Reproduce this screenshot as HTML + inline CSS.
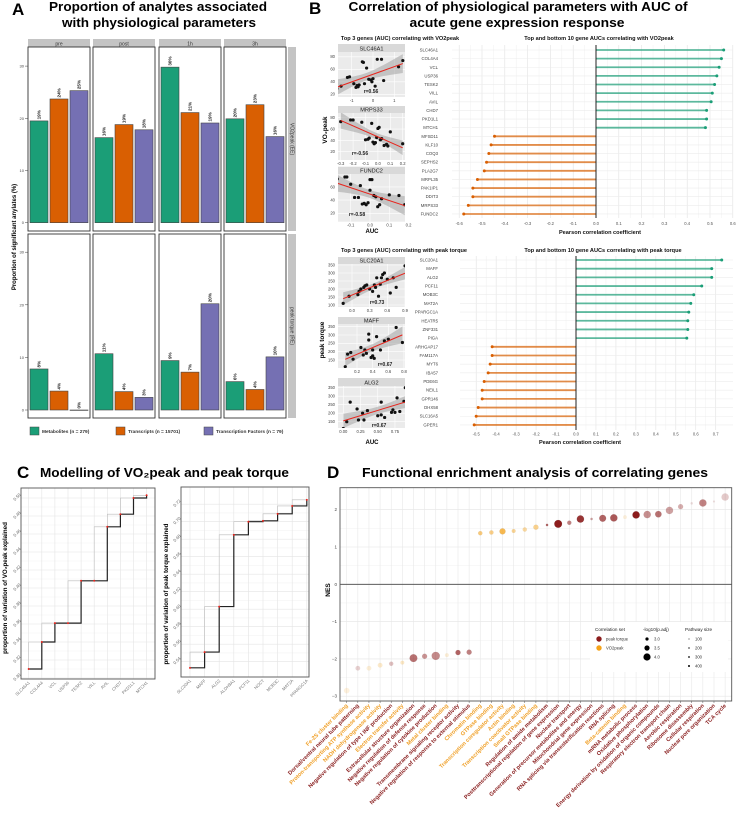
<!DOCTYPE html>
<html><head><meta charset="utf-8">
<style>
html,body{margin:0;padding:0;background:#fff;}
svg{display:block;font-family:"Liberation Sans",Arial,sans-serif;}
</style></head>
<body>
<svg id="fig" width="736" height="817" viewBox="0 0 736 817" xmlns="http://www.w3.org/2000/svg">
<rect x="0" y="0" width="736" height="817" fill="#fff"/>
<text x="12" y="15" font-size="17" font-weight="bold">A</text>
<text x="158" y="11" font-size="12.5" font-weight="bold" text-anchor="middle" textLength="218" lengthAdjust="spacingAndGlyphs">Proportion of analytes associated</text>
<text x="159" y="27" font-size="12.5" font-weight="bold" text-anchor="middle" textLength="194" lengthAdjust="spacingAndGlyphs">with physiological parameters</text>
<text x="309" y="14" font-size="17" font-weight="bold">B</text>
<text x="518" y="11" font-size="12.5" font-weight="bold" text-anchor="middle" textLength="339" lengthAdjust="spacingAndGlyphs">Correlation of physiological parameters with AUC of</text>
<text x="517" y="27" font-size="12.5" font-weight="bold" text-anchor="middle" textLength="215" lengthAdjust="spacingAndGlyphs">acute gene expression response</text>
<text x="17" y="478" font-size="17" font-weight="bold">C</text>
<text x="40" y="477" font-size="12.5" font-weight="bold" textLength="249" lengthAdjust="spacingAndGlyphs">Modelling of VO₂peak and peak torque</text>
<text x="327" y="478" font-size="17" font-weight="bold">D</text>
<text x="362" y="477" font-size="12.5" font-weight="bold" textLength="346" lengthAdjust="spacingAndGlyphs">Functional enrichment analysis of correlating genes</text>
</svg>
<script>
// ===== Panel A data =====
const aTimes=['pre','post','1h','3h'];
const aGroups=['Metabolites (n = 279)','Transcripts (n = 15701)','Transcription Factors (n = 79)'];
const aVo2=[[19.5,23.7,25.3],[16.3,18.8,17.8],[29.8,21.1,19.1],[19.9,22.6,16.5]];
const aVo2Labels=[['19%','24%','25%'],['16%','19%','18%'],['30%','21%','19%'],['20%','23%','16%']];
const aTorque=[[7.8,3.6,0],[10.7,3.5,2.4],[9.4,7.2,20.2],[5.4,3.9,10.1]];
const aTorqueLabels=[['8%','4%','0%'],['11%','4%','3%'],['9%','7%','20%'],['6%','4%','10%']];
const aTicks=[0,10,20,30];
// ===== Panel B data =====
const bTopGenes=['SLC46A1','COL4A4','VCL','USP36','TESK2','VILL','AVIL','CHD7','PKD1L1','MTCH1','MFSD11','KLF10','COQ3','SEPHS2','PLA2G7','MRPL35','PAK1IP1','DDIT3','MRPS33','FUNDC2'];
const bTopVals=[0.56,0.55,0.54,0.53,0.52,0.51,0.505,0.485,0.485,0.48,-0.445,-0.46,-0.47,-0.48,-0.49,-0.52,-0.54,-0.54,-0.56,-0.58];
const bTopTicks=[-0.6,-0.5,-0.4,-0.3,-0.2,-0.1,0,0.1,0.2,0.3,0.4,0.5,0.6];
const bBotGenes=['SLC20A1','MAFF','ALG2','PCF11','MOB3C','MAT2A','PPARGC1A','HEATR5','ZNF331','PIGA','ARHGAP17','FAM117A','MYT6','IBA57','PDE6G','NEIL1','GPR146','DHX58','SLC16A5','GPER1'];
const bBotVals=[0.73,0.68,0.68,0.63,0.59,0.575,0.565,0.56,0.56,0.555,-0.42,-0.42,-0.43,-0.44,-0.46,-0.47,-0.47,-0.49,-0.50,-0.51];
const bBotTicks=[-0.5,-0.4,-0.3,-0.2,-0.1,0,0.1,0.2,0.3,0.4,0.5,0.6,0.7];
const s1X=[-1.7,-1.5,-1.2,-1.1,-0.9,-0.8,-0.75,-0.7,-0.65,-0.5,-0.45,-0.4,-0.3,-0.2,-0.1,-0.05,0.1,0.2,0.4,0.5,1.2,1.4,0];
const s1Y=[29,33,47,48,37,31,34,32,35,72,71,37,62,44,43,40,33,76,76,42,64,74,45];
const s2X=[-0.3,-0.22,-0.2,-0.13,-0.1,-0.08,-0.05,-0.04,-0.03,-0.02,0,0.01,0.02,0.03,-0.01,0.05,0.08,0.1,0.2,-0.07,0.07];
const s2Y=[73,76,76,72,41,42,70,37,34,36,61,63,41,43,45,31,30,55,34,44,33];
const s3X=[-0.17,-0.13,-0.12,-0.1,-0.08,-0.06,-0.05,-0.04,-0.02,-0.01,0,0,0.01,0.02,0.03,0.04,0.05,0.06,0.1,0.15,0.18,-0.03];
const s3Y=[72,75,75,64,44,44,62,34,33,36,55,71,71,47,45,30,33,42,48,47,33,35];
const s4X=[-0.15,-0.05,0.1,0.15,0.12,0.2,0.22,0.25,0.3,0.35,0.4,0.42,0.45,0.5,0.52,0.55,0.6,0.65,0.7,0.75,0.9,0.38,0.48];
const s4Y=[110,155,165,200,185,210,220,225,200,185,210,270,155,270,290,300,260,175,270,210,345,225,230];
const s5X=[0.05,0.08,0.12,0.15,0.25,0.3,0.32,0.35,0.38,0.4,0.4,0.45,0.5,0.55,0.6,0.7,0.78,0.35,0.42,0.28];
const s5Y=[110,185,195,155,225,210,190,305,165,175,210,290,210,265,275,345,255,270,160,180];
const s6X=[0,0.05,0.1,0.2,0.22,0.28,0.35,0.3,0.5,0.55,0.55,0.6,0.7,0.72,0.78,0.82,0.88,0.9,0.92,0.75];
const s6Y=[110,150,265,225,160,200,215,160,185,265,190,175,205,220,290,210,270,350,300,205];
// ===== Panel C data =====
const cVoGenes=['SLC46A1','COL4A4','VCL','USP36','TESK2','VILL','AVIL','CHD7','PKD1L1','MTCH1'];
const cVoVals=[0.310,0.340,0.361,0.361,0.408,0.408,0.468,0.482,0.500,0.503];
const cVoTicks=[0.30,0.32,0.34,0.36,0.38,0.40,0.42,0.44,0.46,0.48,0.50];
const cPtGenes=['SLC20A1','MAFF','ALG2','ALDH9A1','PCF11','NOCT','MOB3C','MAT2A','PPARGC1A'];
const cPtVals=[0.533,0.551,0.603,0.685,0.700,0.701,0.709,0.718,0.725];
const cPtTicks=[0.54,0.56,0.58,0.60,0.62,0.64,0.66,0.68,0.70,0.72];
// ===== Panel D data =====
const dNames=['Fe-2S cluster binding','Dorsal/ventral neural tube patterning','Proton-transporting ATP synthase activity','NADH dehydrogenase activity','Negative regulation of type I INF production','Electron transfer activity','Extracellular structure organization','Negative regulation of defense response','Negative regulation of cytokine production','Metal cluster binding','Transmembrane signaling receptor activity','Negative regulation of response to external stimulus','Chromatin binding','GTPase binding','Transcription coregulator activity','Actin binding','Transcription coactivator activity','Small GTPase binding','Regulation of amide metabolism','Posttranscriptional regulation of gene expression','Nuclear transport','Generation of precursor metabolites and energy','Mitochondrial gene expression','RNA splicing via transesterification reactions','RNA splicing','Beta-catenin binding','mRNA metabolic process','Oxidative phosphorylation','Energy derivation by oxidation of organic compounds','Respiratory electron transport chain','Aerobic respiration','Ribosome disassembly','Cellular respiration','Nuclear pore organization','TCA cycle'];
const dNES=[-2.85,-2.25,-2.25,-2.17,-2.13,-2.1,-1.98,-1.93,-1.92,-1.9,-1.83,-1.82,1.37,1.39,1.42,1.43,1.47,1.53,1.59,1.62,1.65,1.75,1.75,1.77,1.78,1.8,1.86,1.87,1.88,1.98,2.08,2.17,2.18,2.22,2.34];
const dSet=['v','p','v','v','p','v','p','p','p','v','p','p','v','v','v','v','v','v','p','p','p','p','p','p','p','v','p','p','p','p','p','p','p','p','p'];
const dLogP=[3.3,3.1,3.1,3.1,3.0,2.9,3.8,3.2,3.9,2.9,3.2,3.2,3.0,3.0,3.4,2.9,3.0,3.2,2.6,3.8,3.0,3.7,2.6,3.6,3.7,2.9,3.7,3.7,3.5,3.7,3.2,2.6,3.7,2.5,3.7];
const dSize=[100,120,110,130,150,140,280,220,240,110,300,250,260,240,330,220,200,230,300,420,250,380,200,300,320,100,420,230,280,200,180,100,250,100,130];
const dTicks=[-3,-2,-1,0,1,2];

const NS='http://www.w3.org/2000/svg';
const svg=document.getElementById('fig');
function mk(tag,attrs,parent){const e=document.createElementNS(NS,tag);for(const k in attrs)e.setAttribute(k,attrs[k]);(parent||svg).appendChild(e);return e;}
function tx(x,y,s,attrs,parent){const e=mk('text',Object.assign({x:x,y:y},attrs||{}),parent);e.textContent=s;return e;}
function fmt(v,d){return v.toFixed(d);}

// ================= PANEL A =================
const aColors=['#1b9e77','#d95f02','#7570b3'];
const aLefts=[28,93,159,224];
const aRows=[{top:47,bot:231,zero:222.7,sc:5.22,vals:aVo2,labs:aVo2Labels,strip:'VO2peak (EE)',key:'vo2'},
             {top:234,bot:418,zero:410,sc:5.26,vals:aTorque,labs:aTorqueLabels,strip:'peak torque (RE)',key:'torque'}];
const gA=mk('g',{});


aTimes.forEach(function(t,i){
  const s=mk('rect',{x:aLefts[i],y:39,width:62,height:8,fill:'#c4c4c4'},gA);
  
  
  const st=tx(aLefts[i]+31,45.5,t,{'font-size':5,'text-anchor':'middle',fill:'#333'},gA);
  
  
});
aRows.forEach(function(row,ri){
  const rs=mk('rect',{x:288,y:row.top,width:8,height:row.bot-row.top,fill:'#c4c4c4'},gA);
  
  
  const cy=(row.top+row.bot)/2;
  const rt=tx(292,cy,row.strip,{'font-size':5,'text-anchor':'middle',fill:'#333',transform:'rotate(90 292 '+cy+')',dy:'1.7'},gA);
  
  
  aTicks.forEach(function(tk){
    const y=row.zero-tk*row.sc;
    const tl=tx(24,y+1.5,String(tk),{'font-size':4,'text-anchor':'end',fill:'#444'},gA);
    
    
    mk('line',{x1:25,x2:28,y1:y,y2:y,stroke:'#444','stroke-width':0.5},gA);
  });
  aTimes.forEach(function(t,i){
    const fr=mk('rect',{x:aLefts[i],y:row.top,width:62,height:row.bot-row.top,fill:'#fff',stroke:'#333','stroke-width':0.9},gA);
    
    
    row.vals[i].forEach(function(v,j){
      const x=aLefts[i]+2+j*20;
      const y=row.zero-v*row.sc;
      const b=mk('rect',{x:x,y:y,width:18,height:Math.max(0.4,row.zero-y),fill:aColors[j],stroke:'#444','stroke-width':0.6},gA);
      
      
      const lx=x+9+1.5, ly=y-1.5;
      const l=tx(lx,ly,row.labs[i][j],{'font-size':4.6,'font-weight':'bold',fill:'#222',transform:'rotate(-90 '+lx+' '+ly+')'},gA);
      
      
    });
  });
});
const aYt=tx(16,237,'Proportion of significant anylates (%)',{'font-size':6,'font-weight':'bold','text-anchor':'middle',transform:'rotate(-90 16 237)'},gA);


const aLegX=[30,116,204];
aGroups.forEach(function(g,j){
  const b=mk('rect',{x:aLegX[j],y:427,width:9,height:8,fill:aColors[j],stroke:'#444','stroke-width':0.5},gA);
  
  
  const t=tx(aLegX[j]+12,433,g,{'font-size':4.8,'font-weight':'bold',fill:'#333'},gA);
  
  
});

// ================= PANEL B: lollipops =================
function lollipop(o){
  const g=mk('g',{});
  
  
  const xs=function(v){return o.zero+v*o.pu;};
  const bg=mk('rect',{x:o.x0,y:o.y0,width:o.x1-o.x0,height:o.y1-o.y0,fill:'#fff'},g);
  
  
  o.ticks.forEach(function(t,k){
    const x=xs(t);
    mk('line',{x1:x,x2:x,y1:o.y0,y2:o.y1,stroke:'#e2e2e2','stroke-width':0.6},g);
    if(k<o.ticks.length-1){const xm=xs(t+0.05);mk('line',{x1:xm,x2:xm,y1:o.y0,y2:o.y1,stroke:'#f0f0f0','stroke-width':0.5},g);}
    const tl=tx(x,o.tickY,(t===0?'0.0':fmt(t,1)),{'font-size':4.2,'text-anchor':'middle',fill:'#555'},g);
    
    
  });
  o.genes.forEach(function(gn,i){
    const y=o.ry0+i*o.dy;
    mk('line',{x1:o.x0,x2:o.x1,y1:y,y2:y,stroke:'#ececec','stroke-width':0.6},g);
    const lt=tx(o.labX,y+1.5,gn,{'font-size':4.3,'text-anchor':'end',fill:'#444'},g);
    
    
  });
  o.genes.forEach(function(gn,i){
    const y=o.ry0+i*o.dy, v=o.vals[i];
    const c=v>=0?'#1b9e77':'#d95f02';
    const ln=mk('line',{x1:xs(0),x2:xs(v),y1:y,y2:y,stroke:c,'stroke-width':1.8,'stroke-opacity':0.7},g);
    
    
    const pt=mk('circle',{cx:xs(v),cy:y,r:1.5,fill:c},g);
    
    
  });
  const z=mk('line',{x1:xs(0),x2:xs(0),y1:o.y0,y2:o.y1,stroke:'#222','stroke-width':1},g);
  
  
  const ti=tx(o.titleX,o.titleY,o.title,{'font-size':5.6,'font-weight':'bold','text-anchor':'middle',fill:'#111'},g);
  
  
  const xt=tx(o.zero+4,o.xTitleY,'Pearson correlation coefficient',{'font-size':5.6,'font-weight':'bold','text-anchor':'middle',fill:'#111'},g);
  
  
}
lollipop({name:'lollipop-vo2peak',genes:bTopGenes,vals:bTopVals,ticks:bTopTicks,zero:596,pu:228,x0:452,x1:733,y0:45,y1:218,ry0:50,dy:8.63,labX:438,tickY:225,xTitleY:234,title:'Top and bottom 10 gene AUCs correlating with VO2peak',titleX:599,titleY:40});
lollipop({name:'lollipop-peak-torque',genes:bBotGenes,vals:bBotVals,ticks:bBotTicks,zero:576,pu:199.6,x0:460,x1:733,y0:256,y1:430,ry0:260,dy:8.68,labX:438,tickY:435.5,xTitleY:444,title:'Top and bottom 10 gene AUCs correlating with peak torque',titleX:603,titleY:252});

// ================= PANEL B: scatters =================
function scatter(o){
  const g=mk('g',{});
  
  
  const X0=338,X1=405;
  const st=mk('rect',{x:X0,y:o.sy,width:X1-X0,height:o.py0-o.sy,fill:'#d9d9d9'},g);
  
  
  const stt=tx((X0+X1)/2,o.py0-1.6,o.gene,{'font-size':5.6,'text-anchor':'middle',fill:'#222'},g);
  
  
  const bg=mk('rect',{x:X0,y:o.py0,width:X1-X0,height:o.py1-o.py0,fill:'#ebebeb'},g);
  
  
  const clip=mk('clipPath',{id:'clip-'+o.gene},g);
  mk('rect',{x:X0,y:o.py0,width:X1-X0,height:o.py1-o.py0},clip);
  o.xt.forEach(function(t,k){const x=o.xs(t);if(x>=X0&&x<=X1+2){mk('line',{x1:x,x2:x,y1:o.py0,y2:o.py1,stroke:'#fff','stroke-width':0.6},g);}
    const tl=tx(x,o.py1+5,o.xtl[k],{'font-size':4.2,'text-anchor':'middle',fill:'#444'},g);
    
    });
  o.yt.forEach(function(t){const y=o.ys(t);mk('line',{x1:X0,x2:X1,y1:y,y2:y,stroke:'#fff','stroke-width':0.6},g);
    const tl=tx(335,y+1.4,String(t),{'font-size':4.2,'text-anchor':'end',fill:'#444'},g);
    
    });
  const n=o.X.length;let mx=0,my=0;for(let i=0;i<n;i++){mx+=o.X[i];my+=o.Y[i];}mx/=n;my/=n;
  let sxx=0,sxy=0;for(let i=0;i<n;i++){sxx+=(o.X[i]-mx)*(o.X[i]-mx);sxy+=(o.X[i]-mx)*(o.Y[i]-my);}
  const b=sxy/sxx,a=my-b*mx;let sse=0;for(let i=0;i<n;i++){const r=o.Y[i]-a-b*o.X[i];sse+=r*r;}
  const se=Math.sqrt(sse/(n-2));
  const xmin=Math.min.apply(null,o.X),xmax=Math.max.apply(null,o.X);
  const up=[],lo=[];
  for(let k=0;k<=20;k++){const x=xmin+(xmax-xmin)*k/20;const h=2.09*se*Math.sqrt(1/n+(x-mx)*(x-mx)/sxx);
    up.push(o.xs(x)+','+o.ys(a+b*x+h));lo.unshift(o.xs(x)+','+o.ys(a+b*x-h));}
  const band=mk('polygon',{points:up.concat(lo).join(' '),fill:'#a8a8a8','fill-opacity':0.6,'clip-path':'url(#clip-'+o.gene+')'},g);
  
  
  for(let i=0;i<n;i++){
    const p=mk('circle',{cx:o.xs(o.X[i]),cy:o.ys(o.Y[i]),r:1.6,fill:'#111','clip-path':'url(#clip-'+o.gene+')'},g);
    
    
  }
  const rl=mk('line',{x1:o.xs(xmin),y1:o.ys(a+b*xmin),x2:o.xs(xmax),y2:o.ys(a+b*xmax),stroke:'#e8241c','stroke-width':1,'clip-path':'url(#clip-'+o.gene+')'},g);
  
  
  const rt=tx(o.rx,o.ry,o.rlab,{'font-size':5,'font-weight':'bold','text-anchor':'middle',fill:'#222'},g);
  
  
}
scatter({gene:'SLC46A1',X:s1X,Y:s1Y,sy:44,py0:52,py1:97,xs:function(v){return 373+v*21.3;},ys:function(v){return 94.3-(v-20)*0.625;},xt:[-1,0,1],xtl:['-1','0','1'],yt:[20,40,60,80],rlab:'r=0.56',rx:371,ry:93});
scatter({gene:'MRPS33',X:s2X,Y:s2Y,sy:106,py0:113,py1:160,xs:function(v){return 377.9+v*124;},ys:function(v){return 151.7-(v-20)*0.567;},xt:[-0.3,-0.2,-0.1,0,0.1,0.2],xtl:['-0.3','-0.2','-0.1','0.0','0.1','0.2'],yt:[20,40,60,80],rlab:'r=-0.56',rx:360,ry:155});
scatter({gene:'FUNDC2',X:s3X,Y:s3Y,sy:166.7,py0:174,py1:221.7,xs:function(v){return 370+v*193;},ys:function(v){return 213.3-(v-20)*0.66;},xt:[-0.1,0,0.1,0.2],xtl:['-0.1','0.0','0.1','0.2'],yt:[20,40,60],rlab:'r=-0.58',rx:357,ry:216});
scatter({gene:'SLC20A1',X:s4X,Y:s4Y,sy:257,py0:264,py1:307,xs:function(v){return 352+v*58.9;},ys:function(v){return 305-(v-100)*0.16;},xt:[0,0.3,0.6,0.9],xtl:['0.0','0.3','0.6','0.9'],yt:[100,150,200,250,300,350],rlab:'r=0.73',rx:377,ry:304});
scatter({gene:'MAFF',X:s5X,Y:s5Y,sy:317,py0:324,py1:368,xs:function(v){return 357+(v-0.2)*78.3;},ys:function(v){return 360-(v-150)*0.1667;},xt:[0.2,0.4,0.6,0.8],xtl:['0.2','0.4','0.6','0.8'],yt:[150,200,250,300,350],rlab:'r=0.67',rx:385,ry:366});
scatter({gene:'ALG2',X:s6X,Y:s6Y,sy:378,py0:386,py1:428,xs:function(v){return 343.3+v*68.9;},ys:function(v){return 421.7-(v-150)*0.17;},xt:[0,0.25,0.5,0.75],xtl:['0.00','0.25','0.50','0.75'],yt:[150,200,250,300,350],rlab:'r=0.67',rx:379,ry:427});
[['Top 3 genes (AUC) correlating with VO2peak',400,40,'scatter-title-vo2peak'],['Top 3 genes (AUC) correlating with peak torque',404,252,'scatter-title-peak-torque']].forEach(function(d){
  const t=tx(d[1],d[2],d[0],{'font-size':5.6,'font-weight':'bold','text-anchor':'middle',fill:'#111'});
  
  
});
const bY1=tx(327,130,'VO₂peak',{'font-size':6.5,'font-weight':'bold','text-anchor':'middle',transform:'rotate(-90 327 130)'});


const bY2=tx(324,340,'peak torque',{'font-size':6.5,'font-weight':'bold','text-anchor':'middle',transform:'rotate(-90 324 340)'});


const bX1=tx(372,233,'AUC',{'font-size':6,'font-weight':'bold','text-anchor':'middle'});


const bX2=tx(372,444,'AUC',{'font-size':6,'font-weight':'bold','text-anchor':'middle'});



// ================= PANEL C =================
function stepPlot(o){
  const g=mk('g',{});
  
  
  const xs=function(i){return o.cx0+i*o.dx;};
  const ys=function(v){return o.yz-(v-o.vz)*o.pu;};
  mk('rect',{x:o.x0,y:o.y0,width:o.x1-o.x0,height:o.y1-o.y0,fill:'#fff'},g);
  o.ticks.forEach(function(t,k){const y=ys(t);
    mk('line',{x1:o.x0,x2:o.x1,y1:y,y2:y,stroke:'#e4e4e4','stroke-width':0.6},g);
    if(k<o.ticks.length-1){const ym=ys(t+0.01);mk('line',{x1:o.x0,x2:o.x1,y1:ym,y2:ym,stroke:'#f1f1f1','stroke-width':0.5},g);}
    const lx=o.x0-3,ly=y;
    const tl=tx(lx,ly,fmt(t,2),{'font-size':4.3,'text-anchor':'middle',fill:'#666',transform:'rotate(-45 '+lx+' '+ly+')'},g);
    
    });
  o.genes.forEach(function(gn,i){const x=xs(i);
    mk('line',{x1:x,x2:x,y1:o.y0,y2:o.y1,stroke:'#e4e4e4','stroke-width':0.6},g);
    const lx=x+1.5,ly=o.y1+4;
    const tl=tx(lx,ly,gn,{'font-size':4.3,'text-anchor':'end',fill:'#777',transform:'rotate(-45 '+lx+' '+ly+')'},g);
    
    });
  let gp='',bp='';
  o.vals.forEach(function(v,i){
    if(i===0){bp='M'+xs(0)+','+ys(v);gp='M'+xs(0)+','+ys(v);}
    else{bp+=' H'+xs(i)+' V'+ys(v);gp+=' V'+ys(v)+' H'+xs(i);}
  });
  const gl=mk('path',{d:gp,fill:'none',stroke:'#bbb','stroke-width':0.6},g);
  
  
  const bl=mk('path',{d:bp,fill:'none',stroke:'#222','stroke-width':1.2},g);
  
  
  o.vals.forEach(function(v,i){const p=mk('circle',{cx:xs(i),cy:ys(v),r:1,fill:'#e8241c'},g);
    
    });
  mk('rect',{x:o.x0,y:o.y0,width:o.x1-o.x0,height:o.y1-o.y0,fill:'none',stroke:'#555','stroke-width':0.9},g);
  const yt=tx(o.tx,o.ty,o.title,{'font-size':6.2,'font-weight':'bold','text-anchor':'middle',transform:'rotate(-90 '+o.tx+' '+o.ty+')'},g);
  
  
}
stepPlot({name:'step-plot-vo2peak',genes:cVoGenes,vals:cVoVals,ticks:cVoTicks,x0:21,x1:155,y0:488,y1:679,cx0:28.7,dx:13.1,yz:678,vz:0.30,pu:900,title:'proportion of variation of VO₂peak explained',tx:7,ty:588});
stepPlot({name:'step-plot-peak-torque',genes:cPtGenes,vals:cPtVals,ticks:cPtTicks,x0:181,x1:309,y0:487,y1:677,cx0:190,dx:14.6,yz:661.7,vz:0.54,pu:875,title:'proportion of variation of peak torque explained',tx:168,ty:594});

// ================= PANEL D =================
(function(){
  const g=mk('g',{});
  
  
  const X0=340,X1=731.7,Y0=487.7,Y1=701;
  const xs=function(i){return 346.7+i*11.13;};
  const ys=function(v){return 584.3-v*37.3;};
  mk('rect',{x:X0,y:Y0,width:X1-X0,height:Y1-Y0,fill:'#fff'},g);
  dTicks.forEach(function(t,k){const y=ys(t);
    mk('line',{x1:X0,x2:X1,y1:y,y2:y,stroke:'#e4e4e4','stroke-width':0.6},g);
    if(k<dTicks.length-1){const ym=ys(t+0.5);mk('line',{x1:X0,x2:X1,y1:ym,y2:ym,stroke:'#f1f1f1','stroke-width':0.5},g);}
    const tl=tx(X0-3,y+1.5,(t<0?'−':'')+Math.abs(t),{'font-size':4.5,'text-anchor':'end',fill:'#444'},g);
    
    });
  dNames.forEach(function(n,i){const x=xs(i);
    mk('line',{x1:x,x2:x,y1:Y0,y2:Y1,stroke:'#e8e8e8','stroke-width':0.6},g);
    mk('line',{x1:x,x2:x,y1:Y1,y2:Y1+2,stroke:'#555','stroke-width':0.5},g);});
  const z=mk('line',{x1:X0,x2:X1,y1:ys(0),y2:ys(0),stroke:'#444','stroke-width':0.9},g);
  
  
  dNames.forEach(function(n,i){
    const col=dSet[i]==='p'?'#8c1c1c':'#f5a31a';
    const al=0.15+(dSize[i]-100)/320*0.85;
    const r=1+(dLogP[i]-2.5)*2.2;
    const c=mk('circle',{cx:xs(i),cy:ys(dNES[i]),r:r,fill:col,'fill-opacity':al,stroke:'#666','stroke-opacity':0.25*al,'stroke-width':0.4},g);
    
    
    const lx=xs(i)+1.5,ly=Y1+5;
    const t=tx(lx,ly,n,{'font-size':5.6,'font-weight':'bold','text-anchor':'end',fill:dSet[i]==='p'?'#8c2323':'#f0a12a',transform:'rotate(-45 '+lx+' '+ly+')'},g);
    
    
  });
  mk('rect',{x:X0,y:Y0,width:X1-X0,height:Y1-Y0,fill:'none',stroke:'#555','stroke-width':0.9},g);
  const yt=tx(330,590,'NES',{'font-size':6.5,'font-weight':'bold','text-anchor':'middle',transform:'rotate(-90 330 590)'},g);
  
  
  // legend
  const lg=mk('g',{},g);
  
  
  mk('rect',{x:590,y:622,width:138,height:50,fill:'#fff'},lg);
  const h1=tx(595,631,'Correlation set',{'font-size':4.6,fill:'#222'},lg);
  
  
  [['peak torque','#8c1c1c',639],['VO2peak','#f5a31a',648]].forEach(function(d){
    const c=mk('circle',{cx:599,cy:d[2],r:2.7,fill:d[1]},lg);
    
    
    const t=tx(606,d[2]+1.5,d[0],{'font-size':4.2,fill:'#333'},lg);
    
    });
  const h2=tx(643,631,'-log10(p.adj)',{'font-size':4.6,fill:'#222'},lg);
  
  
  [['3.0',1.6,639],['3.5',2.6,648],['4.0',3.6,657]].forEach(function(d){
    const c=mk('circle',{cx:647,cy:d[2],r:d[1],fill:'#000'},lg);
    
    
    const t=tx(654,d[2]+1.5,d[0],{'font-size':4.2,fill:'#333'},lg);
    
    });
  const h3=tx(685,631,'Pathway size',{'font-size':4.6,fill:'#222'},lg);
  
  
  [['100',0.25,639],['200',0.5,648],['300',0.75,657],['400',1,666]].forEach(function(d){
    const c=mk('circle',{cx:689,cy:d[2],r:1,fill:'#000','fill-opacity':d[1]},lg);
    
    
    const t=tx(695,d[2]+1.5,d[0],{'font-size':4.2,fill:'#333'},lg);
    
    });
})();
</script>
</body></html>
